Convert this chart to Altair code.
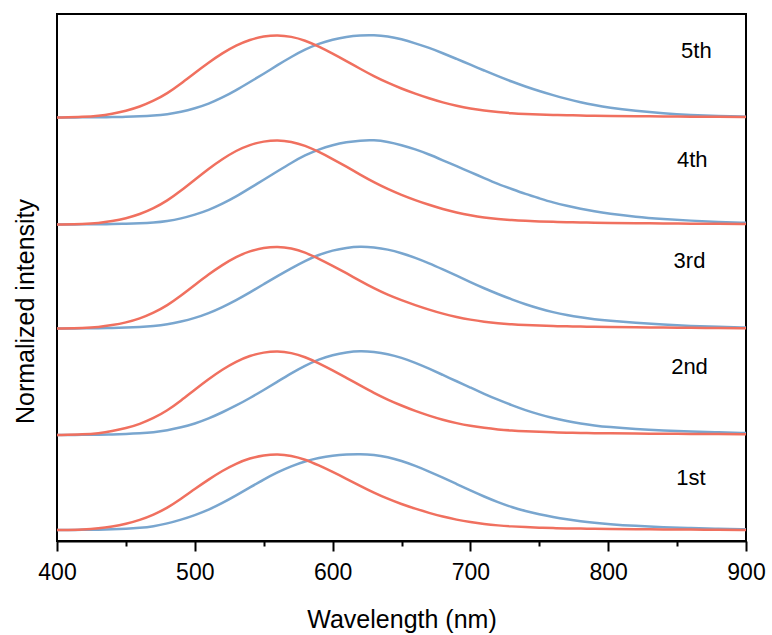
import altair as alt
import pandas as pd

FONT = "Liberation Sans, Arial, sans-serif"

WL = [400, 420, 430, 440, 450, 460, 470, 480, 490, 500, 510, 520, 530, 540, 550,
      560, 570, 580, 590, 600, 610, 620, 630, 640, 650, 660, 670, 680, 690, 700,
      710, 720, 730, 740, 750, 760, 770, 780, 790, 800, 820, 840, 860, 880, 900]

CYCLES = ["1st", "2nd", "3rd", "4th", "5th"]

RED_1 = [0, 0.007, 0.02, 0.045, 0.08, 0.13, 0.20, 0.29, 0.41, 0.54, 0.665, 0.78, 0.875, 0.945, 0.985,
         1.0, 0.98, 0.93, 0.85, 0.765, 0.675, 0.58, 0.49, 0.41, 0.34, 0.28, 0.225, 0.175, 0.135, 0.103,
         0.078, 0.06, 0.047, 0.038, 0.031, 0.025, 0.021, 0.018, 0.016, 0.014, 0.011, 0.008, 0.005, 0.003, 0.0]
RED_2 = [0, 0.007, 0.02, 0.045, 0.08, 0.13, 0.20, 0.29, 0.41, 0.54, 0.665, 0.78, 0.875, 0.945, 0.985,
         1.0, 0.98, 0.93, 0.855, 0.77, 0.68, 0.59, 0.50, 0.42, 0.35, 0.285, 0.23, 0.18, 0.14, 0.108,
         0.084, 0.066, 0.053, 0.044, 0.037, 0.032, 0.028, 0.025, 0.022, 0.02, 0.017, 0.015, 0.013, 0.011, 0.01]
RED_3 = [0, 0.006, 0.017, 0.04, 0.072, 0.12, 0.19, 0.28, 0.40, 0.53, 0.66, 0.775, 0.875, 0.945, 0.985,
         1.0, 0.98, 0.93, 0.85, 0.765, 0.675, 0.58, 0.49, 0.41, 0.345, 0.285, 0.23, 0.18, 0.14, 0.107,
         0.082, 0.064, 0.051, 0.042, 0.035, 0.03, 0.026, 0.023, 0.02, 0.018, 0.014, 0.011, 0.008, 0.006, 0.004]
RED_4 = [0, 0.006, 0.017, 0.04, 0.072, 0.12, 0.19, 0.28, 0.40, 0.53, 0.66, 0.775, 0.875, 0.945, 0.985,
         1.0, 0.982, 0.935, 0.86, 0.775, 0.685, 0.59, 0.50, 0.42, 0.35, 0.288, 0.232, 0.182, 0.141, 0.108,
         0.083, 0.065, 0.052, 0.043, 0.036, 0.031, 0.027, 0.024, 0.021, 0.019, 0.016, 0.013, 0.01, 0.008, 0.006]
RED_5 = [0, 0.007, 0.02, 0.045, 0.08, 0.13, 0.20, 0.29, 0.41, 0.54, 0.665, 0.78, 0.875, 0.945, 0.985,
         1.0, 0.982, 0.935, 0.86, 0.775, 0.685, 0.59, 0.50, 0.42, 0.35, 0.288, 0.232, 0.182, 0.141, 0.108,
         0.083, 0.065, 0.052, 0.043, 0.036, 0.031, 0.027, 0.024, 0.021, 0.019, 0.016, 0.013, 0.01, 0.008, 0.006]

BLUE_1 = [0, 0.002, 0.004, 0.008, 0.015, 0.027, 0.048, 0.085, 0.135, 0.195, 0.265, 0.355, 0.455, 0.56, 0.665,
          0.76, 0.84, 0.905, 0.95, 0.98, 0.995, 1.0, 0.99, 0.96, 0.91, 0.845, 0.77, 0.69, 0.605, 0.52,
          0.44, 0.365, 0.30, 0.25, 0.205, 0.17, 0.14, 0.115, 0.095, 0.078, 0.053, 0.036, 0.025, 0.016, 0.01]
BLUE_2 = [0, 0.002, 0.004, 0.007, 0.012, 0.02, 0.032, 0.055, 0.09, 0.135, 0.195, 0.27, 0.35, 0.44, 0.535,
          0.635, 0.735, 0.825, 0.90, 0.953, 0.985, 1.0, 0.99, 0.965, 0.92, 0.86, 0.79, 0.715, 0.64, 0.565,
          0.49, 0.42, 0.355, 0.295, 0.245, 0.20, 0.165, 0.137, 0.113, 0.095, 0.07, 0.053, 0.04, 0.031, 0.024]
BLUE_3 = [0, 0.002, 0.004, 0.007, 0.011, 0.018, 0.03, 0.05, 0.083, 0.127, 0.185, 0.26, 0.345, 0.44, 0.54,
          0.64, 0.735, 0.825, 0.90, 0.953, 0.985, 1.0, 0.99, 0.965, 0.92, 0.862, 0.795, 0.72, 0.645, 0.565,
          0.49, 0.42, 0.355, 0.295, 0.243, 0.198, 0.163, 0.135, 0.113, 0.096, 0.07, 0.048, 0.031, 0.019, 0.012]
BLUE_4 = [0, 0.002, 0.003, 0.005, 0.008, 0.013, 0.022, 0.04, 0.07, 0.115, 0.17, 0.245, 0.33, 0.43, 0.53,
          0.63, 0.73, 0.82, 0.89, 0.94, 0.975, 0.995, 1.0, 0.98, 0.94, 0.89, 0.83, 0.76, 0.69, 0.62,
          0.55, 0.48, 0.42, 0.36, 0.31, 0.26, 0.22, 0.185, 0.155, 0.13, 0.09, 0.065, 0.045, 0.03, 0.02]
BLUE_5 = [0, 0.002, 0.003, 0.005, 0.008, 0.013, 0.022, 0.038, 0.066, 0.11, 0.165, 0.24, 0.33, 0.43, 0.53,
          0.635, 0.735, 0.825, 0.895, 0.945, 0.98, 0.997, 1.0, 0.985, 0.95, 0.90, 0.845, 0.78, 0.71, 0.64,
          0.57, 0.50, 0.435, 0.375, 0.32, 0.27, 0.225, 0.185, 0.15, 0.12, 0.08, 0.05, 0.03, 0.017, 0.01]

RED = [RED_1, RED_2, RED_3, RED_4, RED_5]
BLUE = [BLUE_1, BLUE_2, BLUE_3, BLUE_4, BLUE_5]

# vertical stacking offset and height of each cycle's normalized spectra
OFFSETS = [0.11, 1.06, 2.125, 3.165, 4.235]
SCALES = [0.76, 0.84, 0.82, 0.845, 0.825]

LABEL_WL = [860, 859, 859, 861, 864]
LABEL_Y = [0.63, 1.74, 2.80, 3.81, 4.90]

RED_COLOR = "#F0705F"
BLUE_COLOR = "#79A6CF"

rows = []
for i, cyc in enumerate(CYCLES):
    for kind, arr in (("blue", BLUE[i]), ("red", RED[i])):
        for w, v in zip(WL, arr):
            rows.append({"wl": w, "y": OFFSETS[i] + SCALES[i] * v,
                         "series": f"{cyc}-{kind}", "kind": kind})
df = pd.DataFrame(rows)
lab = pd.DataFrame({"wl": LABEL_WL, "y": LABEL_Y, "text": CYCLES})

xscale = alt.Scale(domain=[400, 900], nice=False, zero=False)
yscale = alt.Scale(domain=[0, 5.27], nice=False, zero=False)

xaxis = alt.Axis(
    values=[400, 450, 500, 550, 600, 650, 700, 750, 800, 850, 900],
    labelExpr="datum.value % 100 === 0 ? datum.label : ''",
    tickSize={"condition": {"test": "datum.value % 100 === 0", "value": 10}, "value": 5},
    tickWidth=2, tickColor="black", domainColor="black", domainWidth=2,
    labelFont=FONT, labelFontSize=23, labelColor="black", labelPadding=10,
    labelFlush=False, labelOverlap=False,
    title="Wavelength (nm)", titleFont=FONT, titleFontSize=25, titleFontWeight="normal",
    titleColor="black", titlePadding=23, grid=False,
)
yaxis = alt.Axis(
    labels=False, ticks=False, domain=False, grid=False,
    title="Normalized intensity", titleFont=FONT, titleFontSize=25,
    titleFontWeight="normal", titleColor="black", titlePadding=19, titleY=297,
)

base = alt.Chart(df)
blue = base.transform_filter("datum.kind === 'blue'").mark_line(
    color=BLUE_COLOR, strokeWidth=2.5, interpolate="basis"
).encode(
    x=alt.X("wl:Q", scale=xscale, axis=xaxis),
    y=alt.Y("y:Q", scale=yscale, axis=yaxis),
    detail="series:N",
)
red = base.transform_filter("datum.kind === 'red'").mark_line(
    color=RED_COLOR, strokeWidth=2.5, interpolate="basis"
).encode(
    x=alt.X("wl:Q", scale=xscale),
    y=alt.Y("y:Q", scale=yscale),
    detail="series:N",
)
labels = alt.Chart(lab).mark_text(
    font=FONT, fontSize=22, color="black", align="center", baseline="middle"
).encode(
    x=alt.X("wl:Q", scale=xscale),
    y=alt.Y("y:Q", scale=yscale),
    text="text:N",
)

chart = alt.layer(blue, red, labels).properties(
    width=689, height=527,
    autosize=alt.AutoSizeParams(type="none"),
    padding={"left": 57, "top": 14, "right": 26, "bottom": 94},
    background="white",
).configure_view(stroke="black", strokeWidth=2)

chart.save("out.html", embed_options={"renderer": "svg", "actions": False})
